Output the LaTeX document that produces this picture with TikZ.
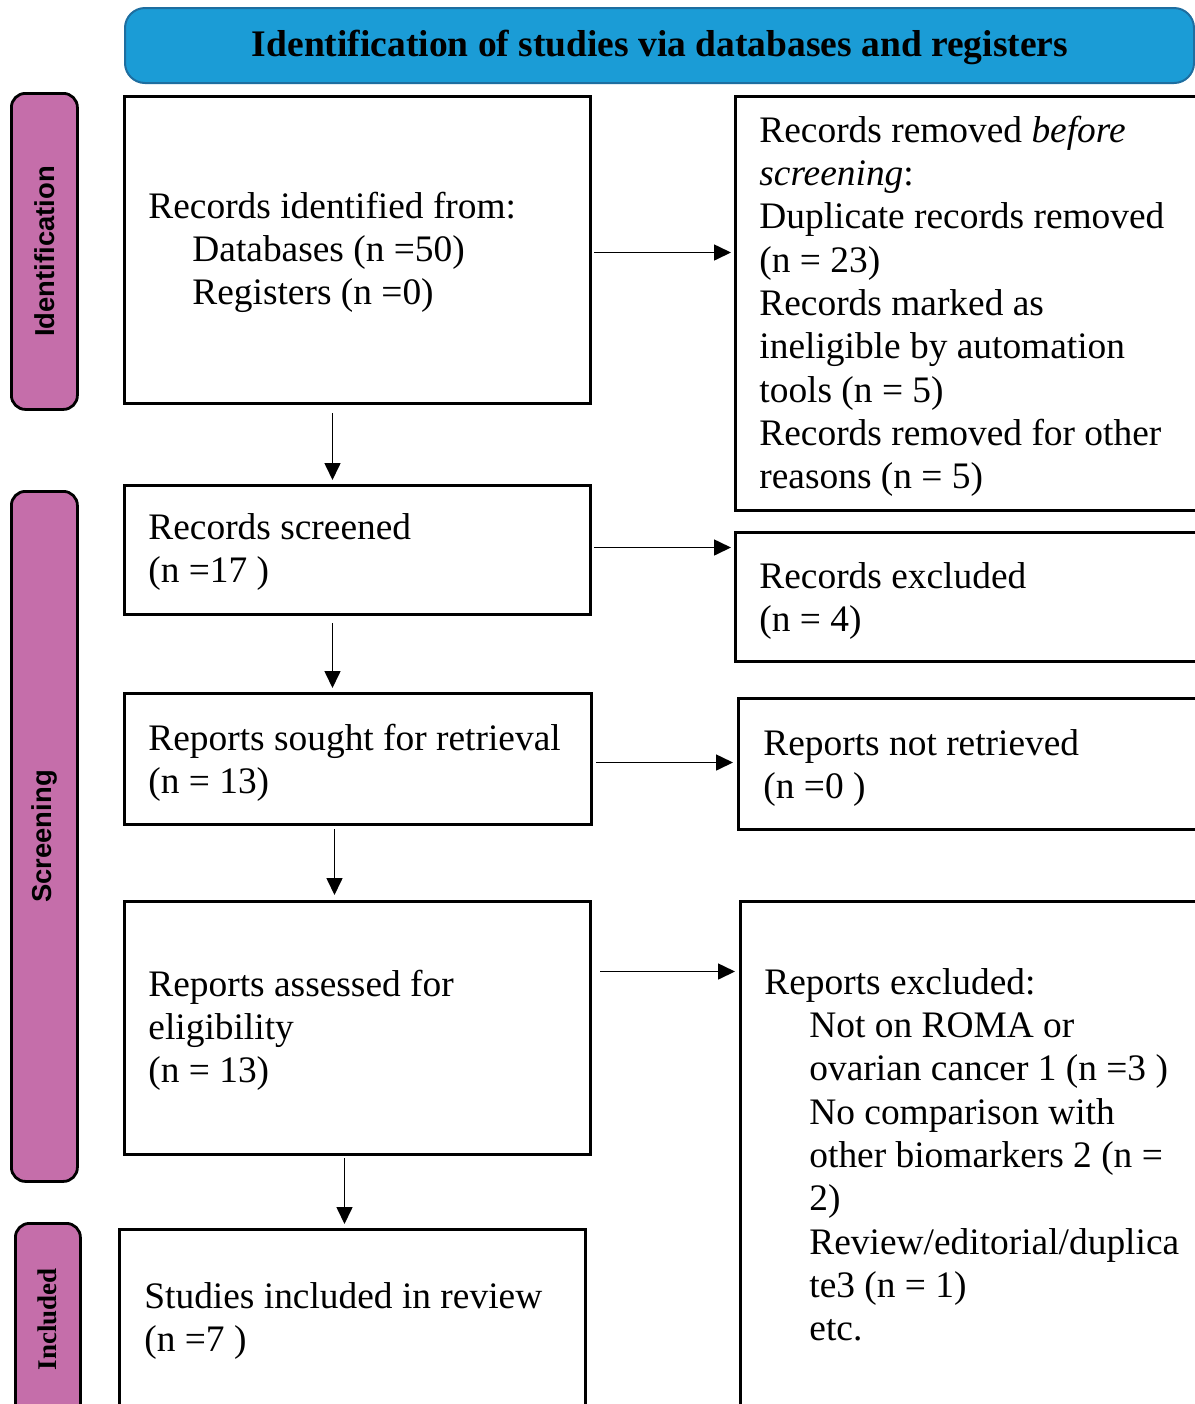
\documentclass[tikz,border=0pt]{standalone}
\usepackage{fontspec}
\setmainfont{Liberation Serif}
\newfontfamily\labsans{Liberation Sans}
\usetikzlibrary{arrows.meta}
\definecolor{hdrblue}{RGB}{27,156,214}
\definecolor{hdredge}{RGB}{30,110,160}
\definecolor{phasepink}{RGB}{197,110,170}
\tikzset{
 box/.style={draw=black, line width=1.5pt, fill=white, inner sep=0pt, anchor=north west},
 phase/.style={draw=black, line width=1.4pt, fill=phasepink, rounded corners=7pt, inner sep=0pt, anchor=north west},
 txt/.style={anchor=north west, inner sep=0pt, align=left, font=\fontsize{18.7}{21.65}\selectfont},
 sidelab/.style={rotate=90, inner sep=0pt, font=\labsans\bfseries\fontsize{13.7}{16}\selectfont},
 arr/.style={line width=0.8pt, -{Triangle[length=8.5pt,width=8pt]}},
}
\begin{document}
\begin{tikzpicture}[x=0.5pt,y=-0.5pt]
\path[use as bounding box] (0,0) rectangle (1195,1404);
\clip (0,0) rectangle (1195,1404);
\fill[white] (0,0) rectangle (1195,1404);

% header
\node[draw=hdredge, line width=1pt, fill=hdrblue, rounded corners=10pt, minimum width=534.5pt, minimum height=37.5pt, anchor=north west, inner sep=0pt] (hdr) at (124,7) {};
\node[font=\bfseries\fontsize{18.75}{22}\selectfont, inner sep=0pt] (hdrt) at (660,47) {Identification of studies via databases and registers};

% phase bars
\node[phase, minimum width=33pt, minimum height=158pt] (p1) at (10,92) {};
\node[sidelab] (p1t) at (p1.center) {Identification};
\node[phase, minimum width=33pt, minimum height=345pt] (p2) at (10,490) {};
\node[sidelab] (p2t) at (p2.center) {Screening};
\node[phase, minimum width=32.5pt, minimum height=110pt] (p3) at (14,1222) {};
\node[sidelab, font=\bfseries\fontsize{13.5}{16}\selectfont] (p3t) at (47,1319) {Included};

% boxes
\node[box, minimum width=233pt, minimum height=153.5pt] (b1) at (123,95) {};
\node[box, minimum width=238pt, minimum height=207pt] (r1) at (734,95) {};
\node[box, minimum width=233pt, minimum height=64.5pt] (b2) at (123,484) {};
\node[box, minimum width=238pt, minimum height=64.5pt] (r2) at (734,531) {};
\node[box, minimum width=233.5pt, minimum height=65.5pt] (b3) at (123,692) {};
\node[box, minimum width=236.5pt, minimum height=65.5pt] (r3) at (737,697) {};
\node[box, minimum width=233pt, minimum height=126.5pt] (b4) at (123,900) {};
\node[box, minimum width=235.5pt, minimum height=260pt] (r4) at (739,900) {};
\node[box, minimum width=233pt, minimum height=110pt] (b5) at (118,1228) {};

% texts
\node[txt] (t1) at (148,187.5) {\strut Records identified from:\\\hspace*{22pt}Databases (n =50)\\\hspace*{22pt}Registers (n =0)};
\node[txt] (t1r) at (759,111.5) {\strut Records removed \textit{before}\\\textit{screening}:\\Duplicate records removed\\(n = 23)\\Records marked as\\ineligible by automation\\tools (n = 5)\\Records removed for other\\reasons (n = 5)};
\node[txt] (t2) at (148,508.5) {\strut Records screened\\(n =17 )};
\node[txt] (t2r) at (759,557.5) {\strut Records excluded\\(n = 4)};
\node[txt] (t3) at (148,719.5) {\strut Reports sought for retrieval\\(n = 13)};
\node[txt] (t3r) at (763,724.5) {\strut Reports not retrieved\\(n =0 )};
\node[txt] (t4) at (148,965.5) {\strut Reports assessed for\\eligibility\\(n = 13)};
\node[txt] (t4r) at (764,963.5) {\strut Reports excluded:\\\hspace*{22.5pt}Not on ROMA or\\\hspace*{22.5pt}ovarian cancer 1 (n =3 )\\\hspace*{22.5pt}No comparison with\\\hspace*{22.5pt}other biomarkers 2 (n =\\\hspace*{22.5pt}2)\\\hspace*{22.5pt}Review/editorial/duplica\\\hspace*{22.5pt}te3 (n = 1)\\\hspace*{22.5pt}etc.};
\node[txt] (t5) at (144,1277.5) {\strut Studies included in review\\(n =7 )};

% horizontal arrows
\draw[arr, shorten <=1pt, shorten >=1.5pt] ([yshift=-1.25pt]b1.east) -- ([yshift=-1.25pt]b1.east -| r1.west);
\draw[arr, shorten <=1pt, shorten >=1.5pt] ([yshift=1.25pt]b2.east) -- ([yshift=1.25pt]b2.east -| r2.west);
\draw[arr, shorten <=1.5pt, shorten >=2pt] ([yshift=-1.75pt]b3.east) -- ([yshift=-1.75pt]b3.east -| r3.west);
\draw[arr, shorten <=4pt, shorten >=2pt] ([yshift=28.25pt]b4.east) -- ([yshift=28.25pt]b4.east -| r4.west);

% vertical arrows
\draw[arr, shorten <=4pt, shorten >=2pt] ([xshift=-12.5pt]b1.south) -- ([xshift=-12.5pt]b1.south |- b2.north);
\draw[arr, shorten <=3.5pt, shorten >=2pt] ([xshift=-12.5pt]b2.south) -- ([xshift=-12.5pt]b2.south |- b3.north);
\draw[arr, shorten <=1.5pt, shorten >=2.5pt] ([xshift=-11.75pt]b3.south) -- ([xshift=-11.75pt]b3.south |- b4.north);
\draw[arr, shorten <=1pt, shorten >=2pt] ([xshift=-6.5pt]b4.south) -- ([xshift=-6.5pt]b4.south |- b5.north);
\end{tikzpicture}
\end{document}
